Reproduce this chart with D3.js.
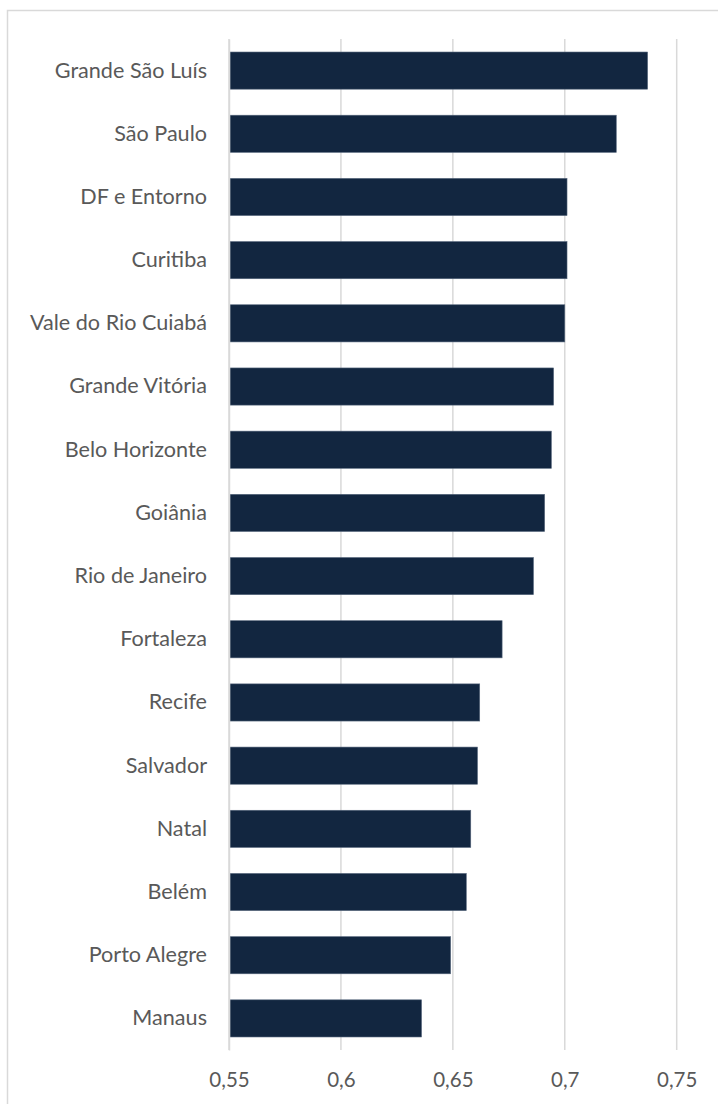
<!DOCTYPE html>
<html>
<head>
<meta charset="utf-8">
<script src="https://cdn.jsdelivr.net/npm/d3@7"></script>
<style>
  html, body { margin: 0; padding: 0; background: #ffffff; }
  svg { display: block; }
</style>
</head>
<body>
<svg id="chart" width="718" height="1104"></svg>
<script>
// Regions, ordered from highest to lowest value
const regions = [
  "Grande São Luís", "São Paulo", "DF e Entorno", "Curitiba", "Vale do Rio Cuiabá",
  "Grande Vitória", "Belo Horizonte", "Goiânia", "Rio de Janeiro", "Fortaleza",
  "Recife", "Salvador", "Natal", "Belém", "Porto Alegre", "Manaus"
];
const values = [
  0.737, 0.723, 0.701, 0.701, 0.700,
  0.695, 0.694, 0.691, 0.686, 0.672,
  0.662, 0.661, 0.658, 0.656, 0.649, 0.636
];
const tickValues = [0.55, 0.6, 0.65, 0.7, 0.75];
const tickLabels = ["0,55", "0,6", "0,65", "0,7", "0,75"];

const svg = d3.select("#chart");
const W = 718, H = 1104;
const margin = { top: 39, right: 40, bottom: 54, left: 229 };
const plotBottom = 1050;

const x = d3.scaleLinear()
  .domain([0.55, 0.75])
  .range([margin.left, 676.7]);

const y = d3.scaleBand()
  .domain(regions)
  .range([margin.top, plotBottom])
  .paddingInner(0.412)
  .paddingOuter(0.206);

const font = "Lato, 'Open Sans', sans-serif";
const textColor = "#595959";
const gridColor = "#d9d9d9";

// Chart frame
svg.append("rect")
  .attr("x", 7.5).attr("y", 10.5)
  .attr("width", W + 10).attr("height", H + 10)
  .attr("fill", "#ffffff")
  .attr("stroke", gridColor)
  .attr("stroke-width", 1.5);

// Vertical gridlines
svg.append("g")
  .selectAll("line")
  .data(tickValues)
  .join("line")
  .attr("x1", d => x(d)).attr("x2", d => x(d))
  .attr("y1", margin.top).attr("y2", plotBottom)
  .attr("stroke", gridColor)
  .attr("stroke-width", 1.5);

// Bars
svg.append("g")
  .selectAll("rect")
  .data(regions.map((r, i) => ({ region: r, value: values[i] })))
  .join("rect")
  .attr("x", x(0.55) + 1)
  .attr("y", d => y(d.region))
  .attr("width", d => x(d.value) - x(0.55) - 1)
  .attr("height", y.bandwidth())
  .attr("fill", "#122640")
  .attr("stroke", "#55657b")
  .attr("stroke-width", 0.6);

// Category axis
const yAxis = d3.axisLeft(y).tickSize(0).tickPadding(22);
const gy = svg.append("g")
  .attr("transform", `translate(${x(0.55)},0)`)
  .call(yAxis);
gy.select(".domain")
  .attr("stroke", gridColor)
  .attr("stroke-width", 1.5);
gy.selectAll("text")
  .attr("fill", textColor)
  .attr("font-family", font)
  .attr("font-size", 21.6);

// Value axis
const xAxis = d3.axisBottom(x)
  .tickValues(tickValues)
  .tickFormat((d, i) => tickLabels[i])
  .tickSize(0)
  .tickPadding(22);
const gx = svg.append("g")
  .attr("transform", `translate(0,${plotBottom})`)
  .call(xAxis);
gx.select(".domain").remove();
gx.selectAll("text")
  .attr("fill", textColor)
  .attr("font-family", font)
  .attr("font-size", 20.5);
</script>
</body>
</html>
